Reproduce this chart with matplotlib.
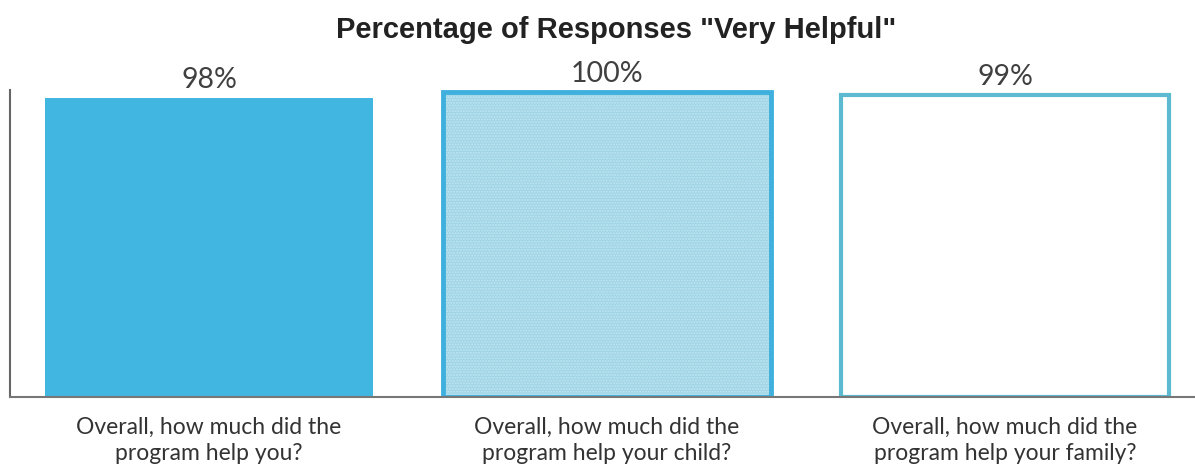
import matplotlib
matplotlib.use("Agg")
import matplotlib.pyplot as plt

categories = ["Overall, how much did the\nprogram help you?",
              "Overall, how much did the\nprogram help your child?",
              "Overall, how much did the\nprogram help your family?"]
values = [98, 100, 99]
labels = ["98%", "100%", "99%"]

fig = plt.figure(figsize=(11.95, 4.71), dpi=100)
ax = fig.add_axes([10/1195, 1-397/471, 1194/1195, 307/471])

x = list(range(len(values)))
w = 0.824
# bar 1 solid
ax.bar(x[0], values[0], width=w, color="#41B6E0", edgecolor="none")
# bar 2 hatched
ax.bar(x[1], values[1], width=w, color="#9FD5E6", edgecolor="#C2E6F0", hatch="......", linewidth=0)
ax.bar(x[1], values[1], width=w, facecolor="none", edgecolor="#3FB0DE", linewidth=3.5)
# bar 3 outline
ax.bar(x[2], values[2], width=w, facecolor="white", edgecolor="#5BB9D0", linewidth=3)

ax.set_xlim(-0.5, 2.5)
ax.set_ylim(0, 100.7)
for xi, v, lab in zip(x, values, labels):
    ax.text(xi, v + 1.8, lab, ha="center", va="bottom", fontsize=20.5, family="Lato",
            color="#404040", clip_on=False)

ax.set_xticks(x)
ax.set_xticklabels(categories, fontsize=16.5, family="Lato", color="#333333", linespacing=1.35)
ax.tick_params(axis="x", length=0, pad=14)
ax.set_yticks([])
for s in ["top", "right"]:
    ax.spines[s].set_visible(False)
ax.spines["left"].set_color("#666666")
ax.spines["bottom"].set_color("#777777")
ax.spines["left"].set_linewidth(1.5)
ax.spines["bottom"].set_linewidth(1.5)

fig.text(616/1195, 1-30/471, 'Percentage of Responses "Very Helpful"', ha="center", va="center",
         fontsize=21, fontweight="bold", family="Liberation Sans", color="#222222")

fig.savefig("out.png", dpi=100)
